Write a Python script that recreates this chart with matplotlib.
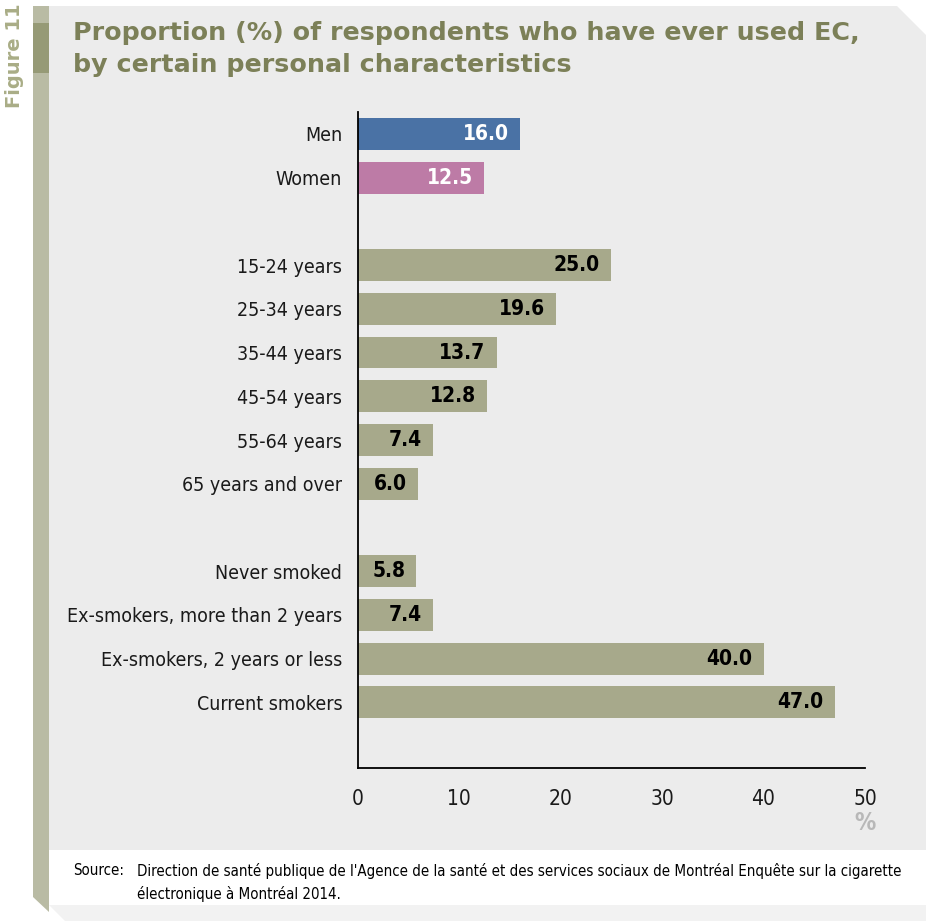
import matplotlib
matplotlib.use('Agg')
import numpy as np
from matplotlib import pyplot as plt
from matplotlib import font_manager
from matplotlib.patches import Polygon, Rectangle

W, H = 926, 921

categories = ['Men', 'Women',
              '15-24 years', '25-34 years', '35-44 years', '45-54 years', '55-64 years', '65 years and over',
              'Never smoked', 'Ex-smokers, more than 2 years', 'Ex-smokers, 2 years or less', 'Current smokers']
values = [16.0, 12.5,
          25.0, 19.6, 13.7, 12.8, 7.4, 6.0,
          5.8, 7.4, 40.0, 47.0]
groups = [0, 0, 1, 1, 1, 1, 1, 1, 2, 2, 2, 2]
xticks = [0, 10, 20, 30, 40, 50]

TITLE = 'Proportion (%) of respondents who have ever used EC,\nby certain personal characteristics'
SOURCE_LABEL = 'Source:'
SOURCE_TEXT = ("Direction de santé publique de l'Agence de la santé et des services sociaux de Montréal "
               "Enquête sur la cigarette\nélectronique à Montréal 2014.")

MEN_COLOR = '#4a72a5'
WOMEN_COLOR = '#bd7ba6'
BAR_COLOR = '#a7a98b'
PANEL_BG = '#ececec'
STRIP = '#b9bba4'
STRIP_DARK = '#969a76'
TITLE_COLOR = '#7c8058'

installed = {f.name for f in font_manager.fontManager.ttflist}
if 'Liberation Sans Narrow' in installed:
    plt.rcParams['font.family'] = ['Liberation Sans Narrow', 'DejaVu Sans']
else:
    plt.rcParams['font.family'] = ['DejaVu Sans']
    plt.rcParams['font.stretch'] = 'condensed'


def px(x, y):
    # pixel coords (top-left origin) -> figure fraction
    return (x / W, 1 - y / H)


fig = plt.figure(figsize=(W / 100, H / 100), dpi=100)
fig.patch.set_facecolor('white')

# background panel with clipped top-right corner
panel = [px(33, 6), px(897, 6), px(926, 35), px(926, 850), px(33, 850)]
fig.patches.append(Polygon(panel, closed=True, transform=fig.transFigure, facecolor=PANEL_BG,
                           edgecolor='none', zorder=-10))
# faint shadow below the source block
fig.patches.append(Polygon([px(49, 905), px(926, 905), px(926, 921), px(65, 921)], closed=True,
                           transform=fig.transFigure, facecolor='#f2f2f2', edgecolor='none', zorder=-10))
# left strip
fig.patches.append(Polygon([px(33, 6), px(49, 6), px(49, 912), px(33, 897)], closed=True,
                           transform=fig.transFigure, facecolor=STRIP, edgecolor='none', zorder=-9))
fig.patches.append(Rectangle(px(33, 73), 16 / W, 50 / H, transform=fig.transFigure,
                             facecolor=STRIP_DARK, edgecolor='none', zorder=-8))

fig.text(*px(15, 56), 'Figure 11', rotation=90, ha='center', va='center', fontsize=14,
         fontweight='bold', color='#a9ad86', family='DejaVu Sans', fontstretch='normal')
fig.text(*px(73, 49), TITLE, ha='left', va='center', fontsize=18.3, fontweight='bold',
         color=TITLE_COLOR, family='DejaVu Sans', fontstretch='normal', linespacing=1.4)

# bar positions: one empty slot between groups
positions = []
row = 0
for i, g in enumerate(groups):
    if i > 0 and g != groups[i - 1]:
        row += 1
    positions.append(row)
    row += 1

colors = [BAR_COLOR] * len(values)
colors[0] = MEN_COLOR
colors[1] = WOMEN_COLOR

ax = fig.add_axes([357.5 / W, 1 - 768 / H, 507.5 / W, (768 - 112) / H], zorder=5)
ax.set_facecolor('none')
ax.barh(positions, values, height=0.73, color=colors, zorder=2)
ax.set_xlim(0, 50)
ax.set_ylim(positions[-1] + 1.5, -0.5)
ax.set_yticks(positions)
ax.set_yticklabels(categories, fontsize=14, color='#1a1a1a')
ax.set_xticks(xticks)
ax.set_xticklabels([str(t) for t in xticks], fontsize=15, color='#1a1a1a')
ax.tick_params(axis='both', length=0)
ax.tick_params(axis='y', pad=11)
ax.tick_params(axis='x', pad=15)
for s in ('top', 'right'):
    ax.spines[s].set_visible(False)
for s in ('left', 'bottom'):
    ax.spines[s].set_linewidth(1.3)

for i, (p, v) in enumerate(zip(positions, values)):
    tc = 'white' if i < 2 else 'black'
    ax.text(v - 1.1, p, f'{v:.1f}', ha='right', va='center', fontsize=15, fontweight='bold',
            color=tc, zorder=3)

fig.text(*px(865, 823), '%', ha='center', va='center', fontsize=17, fontweight='bold', color='#b8b8b8')

fig.text(*px(73, 863), SOURCE_LABEL, ha='left', va='top', fontsize=10.8)
fig.text(*px(137, 863), SOURCE_TEXT, ha='left', va='top', fontsize=10.8, linespacing=1.55)

fig.savefig('out.png', dpi=100, facecolor=fig.get_facecolor())
